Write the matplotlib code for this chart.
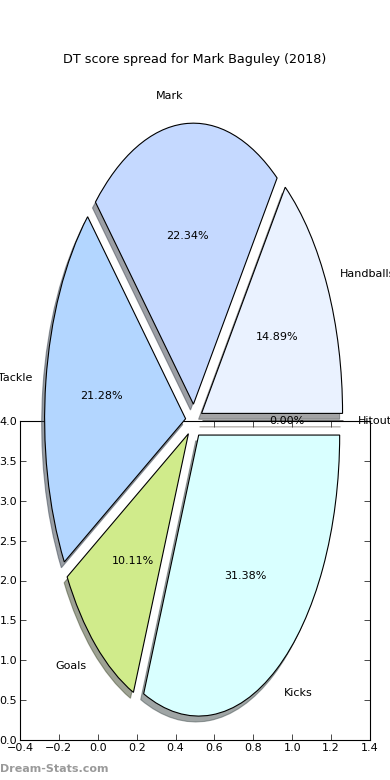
import matplotlib.pyplot as plt

# DT score share per stat, Mark Baguley 2018
labels = ['Handballs', 'Mark', 'Tackle', 'Goals', 'Kicks', 'Hitout']
shares = [14.89, 22.34, 21.28, 10.11, 31.38, 0.0]
colours = ['#eaf2ff', '#c5d9ff', '#b3d6ff', '#d0eb8b', '#d9ffff', '#ffd9b3']
xticks = [-0.4, -0.2, 0.0, 0.2, 0.4, 0.6, 0.8, 1.0, 1.2, 1.4]
yticks = [0.0, 0.5, 1.0, 1.5, 2.0, 2.5, 3.0, 3.5, 4.0]

plt.rcParams['font.family'] = 'DejaVu Sans'
fig = plt.figure(figsize=(3.9, 7.8), dpi=100)

# stray default axes left behind under the pie
ax = fig.add_axes([20/390, 40/780, 350/390, 319/780])
ax.set_xlim(-0.4, 1.4)
ax.set_ylim(0, 4)
ax.set_xticks(xticks)
ax.set_yticks(yticks)
ax.tick_params(direction='in', top=True, right=True, labelsize=8,
               length=4, width=0.5, pad=2)
for s in ax.spines.values():
    s.set_linewidth(0.8)

# the pie itself, stretched (no equal aspect)
pax = fig.add_axes([53/390, 78/780, 282/390, 562/780])
wedges, texts, autotexts = pax.pie(
    shares, labels=labels, colors=colours, explode=[0.06]*len(shares),
    autopct='%.2f%%', shadow={'ox': -0.015, 'oy': -0.015},
    wedgeprops=dict(edgecolor='black', linewidth=0.8),
    textprops=dict(fontsize=8))
pax.set_aspect('auto')
pax.set_xlim(-1, 1)
pax.set_ylim(-1, 1)
for p in pax.patches:
    p.set_clip_on(False)

fig.text(0.5, 1 - 60/780, 'DT score spread for Mark Baguley (2018)',
         ha='center', va='center', fontsize=9.2)
fig.text(0.0, 1 - 769/780, 'Dream-Stats.com', ha='left', va='center',
         fontsize=8, fontweight='bold', color='#9a9a9a')

fig.savefig('out.png', dpi=100)
